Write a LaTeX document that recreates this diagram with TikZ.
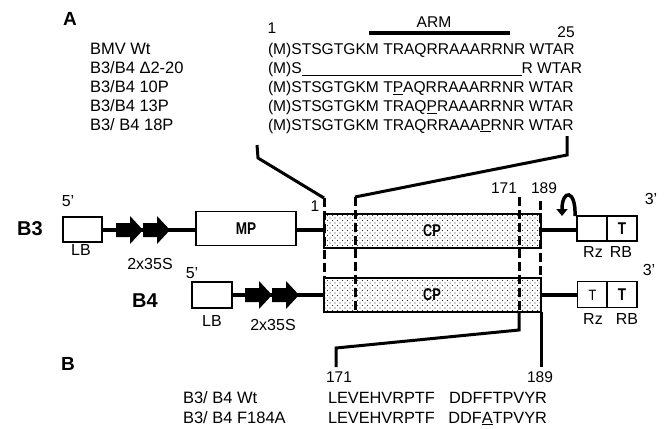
\documentclass[tikz,border=0pt]{standalone}
\usepackage{fontspec}
\usepackage{graphicx}
\setmainfont{Liberation Sans}
\usetikzlibrary{patterns,arrows.meta}
\pgfdeclarepatternformonly{cpdots}{\pgfqpoint{-1pt}{-1pt}}{\pgfqpoint{4pt}{4pt}}{\pgfqpoint{5pt}{5pt}}{%
  \pgfpathcircle{\pgfqpoint{0pt}{0pt}}{0.6pt}%
  \pgfpathcircle{\pgfqpoint{2.5pt}{2.5pt}}{0.6pt}%
  \pgfusepath{fill}}
\newcommand\promarrow[2]{\fill (#1,#2) ++(0,-7) -- ++(14,0) -- ++(0,-7) -- ++(13,14) -- ++(-13,14) -- ++(0,-7) -- ++(-14,0) -- cycle;}
\tikzset{
  every node/.style={inner sep=0pt, outer sep=0pt},
  lbl/.style={font=\fontsize{16.5}{18}\selectfont, anchor=base west},
  seqa/.style={font=\fontsize{15.6}{18}\selectfont, anchor=base west},
  seqb/.style={font=\fontsize{16.3}{18}\selectfont, anchor=base west},
  lab/.style={font=\fontsize{16}{18}\selectfont},
  num/.style={font=\fontsize{15.5}{18}\selectfont},
  hdr/.style={font=\bfseries\fontsize{19}{21}\selectfont},
  cname/.style={font=\bfseries\fontsize{20}{22}\selectfont},
  box/.style={draw, line width=1.2pt, fill=white},
  cpbox/.style={draw, line width=1.2pt, pattern=cpdots, pattern color=black!80},
  gline/.style={line width=3.2pt},
  conn/.style={line width=3pt, line join=miter},
  dsh/.style={line width=3pt, dash pattern=on 9pt off 4pt},
  boxtxt/.style={font=\bfseries\fontsize{17}{18}\selectfont},
}
\begin{document}
\begin{tikzpicture}[x=1pt,y=-1pt]
\useasboundingbox (0,0) rectangle (668,428);

% ---------- Panel A ----------
\node[hdr] (hA) at (70,19) {A};
\node[num] (a1) at (272,28) {1};
\node[font=\fontsize{15.6}{18}\selectfont] (arm) at (434,22) {ARM};
\draw[line width=4pt] (369,33) -- (510,33);
\node[num] (a25) at (566,32) {25};

\node[lbl] (l1) at (90,55) {BMV Wt};
\node[lbl] (l2) at (90,73.8) {B3/B4 Δ2-20};
\node[lbl] (l3) at (90,92.6) {B3/B4 10P};
\node[lbl] (l4) at (90,111.4) {B3/B4 13P};
\node[lbl] (l5) at (90,130.2) {B3/ B4 18P};

\node[seqa] (s1) at (268,55) {(M)STSGTGKM TRAQRRAAARRNR WTAR};
\node[seqa] (s2a) at (268,73.8) {(M)S};
\node[seqa, anchor=base east] (s2b) at (582,73.8) {R WTAR};
\draw[line width=1pt] ([yshift=-1.8pt]s2a.base east) -- ([yshift=-1.8pt]s2b.base west);
\node[seqa] (s3) at (268,92.6) {(M)STSGTGKM T\underline{P}AQRRAAARRNR WTAR};
\node[seqa] (s4) at (268,111.4) {(M)STSGTGKM TRAQ\underline{P}RAAARRNR WTAR};
\node[seqa] (s5) at (268,130.2) {(M)STSGTGKM TRAQRRAAA\underline{P}RNR WTAR};

% ---------- constructs: boxes ----------
\node[cname] (nB3) at (30,229) {B3};
\node[cname] (nB4) at (145,301) {B4};

\node[box, minimum width=39pt, minimum height=25pt] (lb3) at (82.5,229.5) {};
\node[box, minimum width=100pt, minimum height=34pt] (mp3) at (246,228.5) {};
\node[boxtxt] (mp3t) at (246,229) {\scalebox{0.8}[1]{MP}};
\node[cpbox, minimum width=217pt, minimum height=34pt] (cp3) at (432.5,231) {};
\node[boxtxt] (cp3t) at (432,231) {\scalebox{0.75}[1]{CP}};
\node[box, minimum width=30pt, minimum height=25pt] (rz3) at (592,228.5) {};
\node[box, minimum width=30pt, minimum height=25pt] (rb3) at (622,228.5) {};
\node[boxtxt] (rb3t) at (622,229) {\scalebox{0.8}[1]{T}};

\node[box, minimum width=40pt, minimum height=26pt] (lb4) at (212,295) {};
\node[cpbox, minimum width=217pt, minimum height=34pt] (cp4) at (432.5,295) {};
\node[boxtxt] (cp4t) at (432,295) {\scalebox{0.75}[1]{CP}};
\node[box, minimum width=30pt, minimum height=26pt] (rz4) at (592.5,294.5) {};
\node[font=\fontsize{15}{16}\selectfont] (rz4t) at (592.5,295) {\scalebox{0.85}[1]{T}};
\node[box, minimum width=30pt, minimum height=26pt] (rb4) at (622,294.5) {};
\node[boxtxt] (rb4t) at (622,295) {\scalebox{0.8}[1]{T}};

% labels around boxes
\node[lab] (p5a) at (68,201) {5’};
\node[lab] (lbl3) at (81,250) {LB};
\node[lab] (pr3) at (150,264) {2x35S};
\node[lab] (rzl3) at (593,252) {Rz};
\node[lab] (rbl3) at (621,252) {RB};
\node[lab] (p3a) at (651,199) {3’};

\node[lab] (p5b) at (192,273) {5’};
\node[lab] (lbl4) at (212,321) {LB};
\node[lab] (pr4) at (273,325) {2x35S};
\node[lab] (rzl4) at (593,319) {Rz};
\node[lab] (rbl4) at (627,319) {RB};
\node[lab] (p3b) at (649,270) {3’};

% backbone lines
\draw[gline] (lb3.east |- 0,230) -- (mp3.west |- 0,230);
\draw[gline] (mp3.east |- 0,230) -- (cp3.west |- 0,230);
\draw[gline] (cp3.east |- 0,230) -- (rz3.west |- 0,230);
\draw[gline] (lb4.east) -- (cp4.west);
\draw[gline] (cp4.east) -- (rz4.west |- cp4.east);

% promoter arrows
\promarrow{116}{230}
\promarrow{143}{230}
\promarrow{245}{295}
\promarrow{272}{295}

% ribozyme cleavage arrow
\draw[line width=3.5pt, -{Triangle[width=11pt,length=7pt]}] (575,216) .. controls (576,189) and (562,189) .. (562,216);

% ---------- connectors from sequence to CP ----------
\node[num] (c1lab) at (315,206) {1};
\coordinate (c1top) at (257,145);
\coordinate (d1) at (324,198);
\draw[conn] (c1top) -- (258,158) -- (d1);
\draw[dsh] (d1) -- (cp4.north west);

\coordinate (c2top) at (567,136);
\coordinate (d2) at (355,197);
\draw[conn] (c2top) -- (567,155) -- (d2);
\draw[dsh] (d2) -- (d2 |- cp4.south);

\node[num] (n171) at (504,188) {171};
\node[num] (n189) at (544,188) {189};
\coordinate (d171) at (519,197);
\coordinate (d189) at (540,201);
\draw[dsh] (d171) -- (d171 |- cp4.south);
\draw[dsh] (d189) -- (d189 |- cp4.north);

% ---------- Panel B ----------
\node[hdr] (hB) at (68,364) {B};
\node[num] (b171) at (339,377.5) {171};
\node[num] (b189) at (540,377.5) {189};
\coordinate (e171) at (336,367);
\coordinate (e189) at (541,367);
\draw[conn] (d171 |- cp4.south) -- (519,330) -- (336,348) -- (e171);
\draw[conn] (cp4.south east) -- (e189);

\node[lbl] (bl1) at (183,403.3) {B3/ B4 Wt};
\node[lbl] (bl2) at (183,423) {B3/ B4 F184A};
\node[seqb] (bs1a) at (328,403.3) {LEVEHVRPTF};
\node[seqb, anchor=base east] (bs1b) at (547,403.3) {DDFFTPVYR};
\node[seqb] (bs2a) at (328,423) {LEVEHVRPTF};
\node[seqb, anchor=base east] (bs2b) at (547,423) {DDF\underline{A}TPVYR};
\end{tikzpicture}
\end{document}
